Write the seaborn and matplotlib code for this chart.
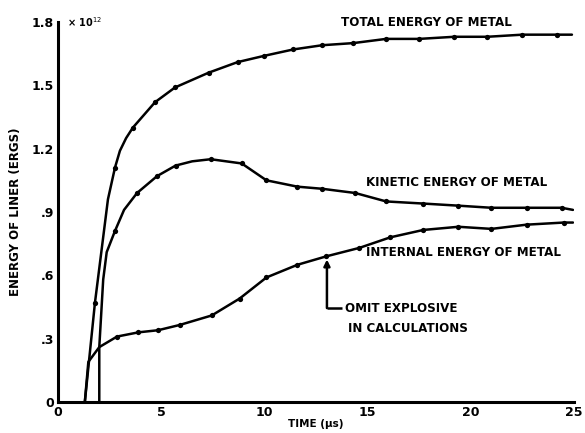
import matplotlib
matplotlib.use("Agg")
import matplotlib.pyplot as plt
import seaborn as sns
import pandas as pd
from matplotlib.ticker import MultipleLocator, FixedLocator

# ---- data (energy in units of 1e12 ergs, time in microseconds) ----
total_t = [1.3, 1.79, 2.42, 2.76, 3.0, 3.3, 3.63, 4.7, 5.67, 7.3, 8.7, 10.0, 11.4, 12.8,
           14.3, 15.9, 17.5, 19.2, 20.8, 22.5, 24.2, 24.9]
total_e = [0.0, 0.47, 0.96, 1.11, 1.19, 1.25, 1.30, 1.42, 1.49, 1.56, 1.61, 1.64, 1.67, 1.69,
           1.70, 1.72, 1.72, 1.73, 1.73, 1.74, 1.74, 1.74]
total_marks = [1, 3, 6, 7, 8, 9, 10, 11, 12, 13, 14, 15, 16, 17, 18, 19, 20]

kinetic_t = [2.0, 2.0, 2.19, 2.36, 2.76, 3.2, 3.83, 4.8, 5.7, 6.5, 7.4, 8.9, 9.5, 10.1,
             11.6, 12.8, 14.4, 15.9, 17.7, 19.4, 21.0, 22.7, 24.4, 24.95]
kinetic_e = [0.0, 0.26, 0.58, 0.71, 0.81, 0.91, 0.99, 1.07, 1.12, 1.14, 1.15, 1.13, 1.09,
             1.05, 1.02, 1.01, 0.99, 0.95, 0.94, 0.93, 0.92, 0.92, 0.92, 0.91]
kinetic_marks = [4, 6, 7, 8, 10, 11, 13, 14, 15, 16, 17, 18, 19, 20, 21, 22]

internal_t = [1.3, 1.47, 2.0, 2.86, 3.9, 4.85, 5.9, 7.45, 8.8, 10.1, 11.6, 13.0, 14.6,
              16.1, 17.7, 19.4, 21.0, 22.7, 24.5, 24.95]
internal_e = [0.0, 0.19, 0.26, 0.31, 0.33, 0.34, 0.365, 0.41, 0.49, 0.59, 0.65, 0.69, 0.73,
              0.78, 0.815, 0.83, 0.82, 0.84, 0.85, 0.85]
internal_marks = [3, 4, 5, 6, 7, 8, 9, 10, 11, 12, 13, 14, 15, 16, 17, 18]

x_ticks = [0, 5, 10, 15, 20, 25]
x_ticklabels = ["0", "5", "10", "15", "20", "25"]
y_ticks = [0, 0.3, 0.6, 0.9, 1.2, 1.5, 1.8]
y_ticklabels = ["0", ".3", ".6", ".9", "1.2", "1.5", "1.8"]

labels = {
    "total": "TOTAL ENERGY OF METAL",
    "kinetic": "KINETIC ENERGY OF METAL",
    "internal": "INTERNAL ENERGY OF METAL",
}
note_lines = ["OMIT EXPLOSIVE", "IN CALCULATIONS"]

# ---- figure ----
sns.set_theme(style="white")
FONT = ["Liberation Sans Narrow", "DejaVu Sans"]
plt.rcParams["font.family"] = FONT
plt.rcParams["text.color"] = "black"
plt.rcParams["axes.labelcolor"] = "black"
plt.rcParams["xtick.color"] = "black"
plt.rcParams["ytick.color"] = "black"

fig = plt.figure(figsize=(5.85, 4.33), dpi=100)
ax = fig.add_axes([58 / 585, 31 / 433, (574 - 58) / 585, (402 - 22) / 433])

for t, e, mk in [(total_t, total_e, total_marks),
                 (kinetic_t, kinetic_e, kinetic_marks),
                 (internal_t, internal_e, internal_marks)]:
    df = pd.DataFrame({"t": t, "e": e})
    sns.lineplot(data=df, x="t", y="e", ax=ax, sort=False, estimator=None,
                 color="black", linewidth=1.8, marker="o", markersize=3.8,
                 markeredgewidth=0, markevery=mk)

ax.set_xlim(0, 25)
ax.set_ylim(0, 1.8)
ax.xaxis.set_major_locator(FixedLocator(x_ticks))
ax.set_xticklabels(x_ticklabels)
ax.yaxis.set_major_locator(FixedLocator(y_ticks))
ax.set_yticklabels(y_ticklabels)
ax.xaxis.set_minor_locator(MultipleLocator(1))
ax.yaxis.set_minor_locator(MultipleLocator(0.1))
ax.tick_params(which="major", direction="in", length=7, width=1.8, colors="black",
               labelcolor="black", labelsize=9, pad=3)
ax.tick_params(which="minor", direction="in", length=4, width=1.5, colors="black")
for lab in ax.get_xticklabels() + ax.get_yticklabels():
    lab.set_fontweight("bold")
    lab.set_family(FONT)

for s in ["top", "right"]:
    ax.spines[s].set_visible(False)
for s in ["left", "bottom"]:
    ax.spines[s].set_linewidth(2.2)
    ax.spines[s].set_color("black")

ax.set_xlabel("TIME (μs)", fontsize=7.5, fontweight="bold", labelpad=0, color="black")
ax.set_ylabel("ENERGY OF LINER (ERGS)", fontsize=8.5, fontweight="bold", labelpad=7,
              color="black")
ax.grid(False)

ax.text(0.45, 1.8, "× 10$^{12}$", fontsize=7, fontweight="bold", va="center", ha="left",
        color="black")

tkw = dict(fontsize=8.6, fontweight="bold", va="center", ha="left", color="black")
ax.text(13.7, 1.80, labels["total"], **tkw)
ax.text(14.9, 1.04, labels["kinetic"], **tkw)
ax.text(14.9, 0.71, labels["internal"], **tkw)
ax.text(13.9, 0.445, note_lines[0], **tkw)
ax.text(14.05, 0.35, note_lines[1], **tkw)

ax.annotate("", xy=(13.03, 0.675), xytext=(13.03, 0.445),
            arrowprops=dict(arrowstyle="-|>", color="black", lw=1.8,
                            mutation_scale=9, shrinkA=0, shrinkB=0))
ax.plot([13.03, 13.76], [0.445, 0.445], color="black", lw=1.8, solid_capstyle="butt")

fig.savefig("out.png", dpi=100, facecolor="white")
